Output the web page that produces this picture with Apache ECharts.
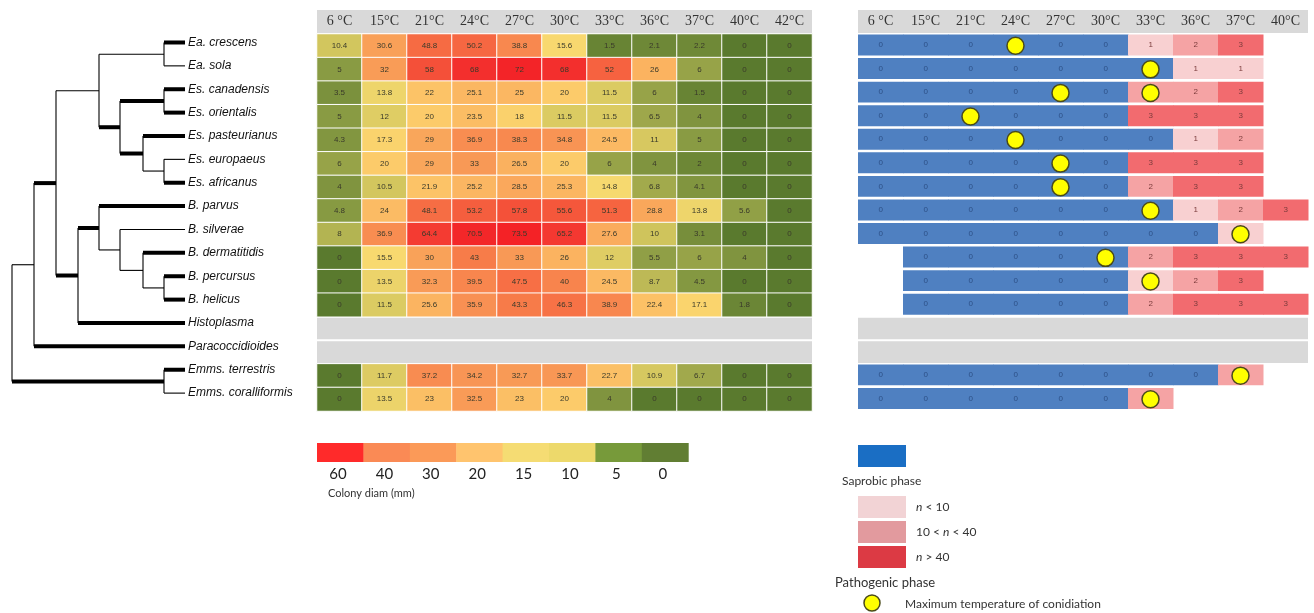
<!DOCTYPE html>
<html>
<head>
<meta charset="utf-8">
<script src="https://cdn.jsdelivr.net/npm/echarts@6/dist/echarts.min.js"></script>
<style>
  html, body { margin: 0; padding: 0; background: #fff; }
  #chart { width: 1314px; height: 613px; }
</style>
</head>
<body>
<div id="chart"></div>
<script>
// ---- data ----
const species = [
  'Ea. crescens', 'Ea. sola', 'Es. canadensis', 'Es. orientalis', 'Es. pasteurianus',
  'Es. europaeus', 'Es. africanus', 'B. parvus', 'B. silverae', 'B. dermatitidis',
  'B. percursus', 'B. helicus', 'Histoplasma', 'Paracoccidioides',
  'Emms. terrestris', 'Emms. coralliformis'
];

const growthTemps = ['6 °C', '15°C', '21°C', '24°C', '27°C', '30°C', '33°C', '36°C', '37°C', '40°C', '42°C'];
const phaseTemps  = ['6 °C', '15°C', '21°C', '24°C', '27°C', '30°C', '33°C', '36°C', '37°C', '40°C'];

// colony diameter (mm) per species and temperature; null = not tested
const colonyDiam = [
  [10.4, 30.6, 48.8, 50.2, 38.8, 15.6, 1.5, 2.1, 2.2, 0, 0],
  [5, 32, 58, 68, 72, 68, 52, 26, 6, 0, 0],
  [3.5, 13.8, 22, 25.1, 25, 20, 11.5, 6, 1.5, 0, 0],
  [5, 12, 20, 23.5, 18, 11.5, 11.5, 6.5, 4, 0, 0],
  [4.3, 17.3, 29, 36.9, 38.3, 34.8, 24.5, 11, 5, 0, 0],
  [6, 20, 29, 33, 26.5, 20, 6, 4, 2, 0, 0],
  [4, 10.5, 21.9, 25.2, 28.5, 25.3, 14.8, 6.8, 4.1, 0, 0],
  [4.8, 24, 48.1, 53.2, 57.8, 55.6, 51.3, 28.8, 13.8, 5.6, 0],
  [8, 36.9, 64.4, 70.5, 73.5, 65.2, 27.6, 10, 3.1, 0, 0],
  [0, 15.5, 30, 43, 33, 26, 12, 5.5, 6, 4, 0],
  [0, 13.5, 32.3, 39.5, 47.5, 40, 24.5, 8.7, 4.5, 0, 0],
  [0, 11.5, 25.6, 35.9, 43.3, 46.3, 38.9, 22.4, 17.1, 1.8, 0],
  null,
  null,
  [0, 11.7, 37.2, 34.2, 32.7, 33.7, 22.7, 10.9, 6.7, 0, 0],
  [0, 13.5, 23, 32.5, 23, 20, 4, 0, 0, 0, 0]
];

// phase: 0 = saprobic, 1 = n<10, 2 = 10<n<40, 3 = n>40 ; null = not tested
const phaseLevel = [
  [0, 0, 0, 0, 0, 0, 1, 2, 3, null],
  [0, 0, 0, 0, 0, 0, 0, 1, 1, null],
  [0, 0, 0, 0, 0, 0, 2, 2, 3, null],
  [0, 0, 0, 0, 0, 0, 3, 3, 3, null],
  [0, 0, 0, 0, 0, 0, 0, 1, 2, null],
  [0, 0, 0, 0, 0, 0, 3, 3, 3, null],
  [0, 0, 0, 0, 0, 0, 2, 3, 3, null],
  [0, 0, 0, 0, 0, 0, 0, 1, 2, 3],
  [0, 0, 0, 0, 0, 0, 0, 0, 1, null],
  [null, 0, 0, 0, 0, 0, 2, 3, 3, 3],
  [null, 0, 0, 0, 0, 0, 1, 2, 3, null],
  [null, 0, 0, 0, 0, 0, 2, 3, 3, 3],
  null,
  null,
  [0, 0, 0, 0, 0, 0, 0, 0, 2, null],
  [0, 0, 0, 0, 0, 0, 2, null, null, null]
];

// maximum temperature of conidiation
const conidiationMax = [
  ['Ea. crescens', '24°C'], ['Ea. sola', '33°C'], ['Es. canadensis', '27°C'],
  ['Es. canadensis', '33°C'], ['Es. orientalis', '21°C'], ['Es. pasteurianus', '24°C'],
  ['Es. europaeus', '27°C'], ['Es. africanus', '27°C'], ['B. parvus', '33°C'],
  ['B. silverae', '37°C'], ['B. dermatitidis', '30°C'], ['B. percursus', '33°C'],
  ['Emms. terrestris', '37°C'], ['Emms. coralliformis', '33°C']
];

// phylogeny: node depth x, thick (supported) branch flag w, tips index into species
const phylogeny = { x: 12, kids: [
  { x: 34, w: 0, kids: [
    { x: 56, w: 1, kids: [
      { x: 99, w: 0, kids: [
        { x: 164, w: 0, kids: [{ tip: 0, w: 1 }, { tip: 1, w: 0 }] },
        { x: 120, w: 1, kids: [
          { x: 164, w: 1, kids: [{ tip: 2, w: 1 }, { tip: 3, w: 1 }] },
          { x: 143, w: 1, kids: [
            { tip: 4, w: 1 },
            { x: 164, w: 0, kids: [{ tip: 5, w: 0 }, { tip: 6, w: 1 }] }
          ] }
        ] }
      ] },
      { x: 78, w: 1, kids: [
        { x: 99, w: 1, kids: [
          { tip: 7, w: 1 },
          { x: 120, w: 0, kids: [
            { tip: 8, w: 0 },
            { x: 143, w: 0, kids: [
              { tip: 9, w: 1 },
              { x: 164, w: 0, kids: [{ tip: 10, w: 1 }, { tip: 11, w: 1 }] }
            ] }
          ] }
        ] },
        { tip: 12, w: 1 }
      ] }
    ] },
    { tip: 13, w: 1 }
  ] },
  { x: 164, w: 1, kids: [{ tip: 14, w: 1 }, { tip: 15, w: 0 }] }
] };
const TIP_X = 185;

// ---- derived series data ----
const treeSegments = [];
(function layout(node, parentX) {
  if (node.tip !== undefined) {
    node.x = TIP_X;
    node.y = node.tip;
  } else {
    node.kids.forEach(k => layout(k, node.x));
    const first = node.kids[0], last = node.kids[node.kids.length - 1];
    node.y = (first.y + last.y) / 2;
    treeSegments.push([node.x, first.y, node.x, last.y, 0]);
  }
  if (parentX !== null) treeSegments.push([parentX, node.y, node.x, node.y, node.w]);
})(phylogeny, null);

const growthCells = [];
const missingRows = [];
colonyDiam.forEach((row, r) => {
  if (!row) { missingRows.push([0, r]); return; }
  row.forEach((v, c) => growthCells.push([c, r, v]));
});

const phaseCells = [];
phaseLevel.forEach((row, r) => {
  if (!row) return;
  row.forEach((v, c) => { if (v !== null) phaseCells.push([c, r, v]); });
});

// ---- styling ----
const diamColors = ['#5a7a2e', '#899b43', '#cfc45c', '#f8da70', '#fccb6a', '#fbb762', '#f9a259', '#f89354',
                    '#f8844d', '#f77647', '#f66842', '#f5593c', '#f44a37', '#f43931', '#f3282a', '#f41f24'];
const phaseColors = ['#4f80c1', '#f8d0d1', '#f5a3a4', '#f26b6f'];
const phaseText = ['#2d4f86', '#7a3b3b', '#7a3b3b', '#7a3b3b'];

const GRID_TOP = 34, GRID_H = 377;
const headerLabel = {
  interval: 0, margin: 1, color: '#333', fontFamily: 'Liberation Serif', fontSize: 14,
  backgroundColor: '#d9d9d9', width: 45, height: 23, lineHeight: 23, align: 'center'
};

function grayRow(params, api) {
  const c = api.coord([0, api.value(1)]);
  const s = api.size([1, 1]);
  const ncol = params.seriesName === 'growth-missing' ? growthTemps.length : phaseTemps.length;
  return {
    type: 'rect',
    shape: { x: c[0] - s[0] / 2, y: c[1] - s[1] / 2 + 1, width: s[0] * ncol, height: s[1] - 2 },
    style: { fill: '#d9d9d9' }
  };
}

const chart = echarts.init(document.getElementById('chart'));
chart.setOption({
  animation: false,
  backgroundColor: '#fff',
  grid: [
    { left: 0, top: 30.8, width: TIP_X, height: 374 },
    { left: 317, top: GRID_TOP, width: 495, height: GRID_H },
    { left: 858, top: GRID_TOP, width: 450, height: GRID_H }
  ],
  xAxis: [
    { gridIndex: 0, type: 'value', min: 0, max: TIP_X, show: false },
    { gridIndex: 1, type: 'category', data: growthTemps, position: 'top',
      axisLine: { show: false }, axisTick: { show: false }, axisLabel: headerLabel },
    { gridIndex: 2, type: 'category', data: phaseTemps, position: 'top',
      axisLine: { show: false }, axisTick: { show: false }, axisLabel: headerLabel }
  ],
  yAxis: [
    { gridIndex: 0, type: 'value', min: -0.5, max: species.length - 0.5, inverse: true, show: false },
    { gridIndex: 0, type: 'category', data: species, inverse: true, position: 'right',
      axisLine: { show: false }, axisTick: { show: false },
      axisLabel: { margin: 3, fontStyle: 'italic', fontSize: 12, fontFamily: 'Liberation Sans', color: '#111' } },
    { gridIndex: 1, type: 'category', data: species, inverse: true, show: false },
    { gridIndex: 2, type: 'category', data: species, inverse: true, show: false }
  ],
  visualMap: {
    type: 'continuous', show: false, seriesIndex: 1, dimension: 2,
    min: 0, max: 75, inRange: { color: diamColors }
  },
  series: [
    {
      name: 'phylogeny', type: 'custom', xAxisIndex: 0, yAxisIndex: 0,
      data: treeSegments, encode: { x: [0, 2], y: [1, 3] }, silent: true,
      renderItem: (params, api) => {
        const p1 = api.coord([api.value(0), api.value(1)]);
        const p2 = api.coord([api.value(2), api.value(3)]);
        return { type: 'line', shape: { x1: p1[0], y1: p1[1], x2: p2[0], y2: p2[1] },
                 style: { stroke: '#000', lineWidth: api.value(4) ? 4 : 1.1, lineCap: 'butt' } };
      }
    },
    {
      name: 'colony', type: 'heatmap', xAxisIndex: 1, yAxisIndex: 2, data: growthCells,
      itemStyle: { borderColor: '#fff', borderWidth: 1 },
      label: { show: true, fontSize: 8, color: '#3a3a2a', fontFamily: 'Liberation Sans',
               formatter: p => String(p.value[2]) }
    },
    {
      name: 'growth-missing', type: 'custom', xAxisIndex: 1, yAxisIndex: 2,
      data: missingRows, encode: { x: 0, y: 1 }, renderItem: grayRow
    },
    {
      name: 'phase', type: 'custom', xAxisIndex: 2, yAxisIndex: 3,
      data: phaseCells, encode: { x: 0, y: 1 },
      renderItem: (params, api) => {
        const c = api.coord([api.value(0), api.value(1)]);
        const s = api.size([1, 1]);
        const v = api.value(2);
        return {
          type: 'rect',
          shape: { x: c[0] - s[0] / 2, y: c[1] - s[1] / 2 + 0.5, width: s[0] + 0.5, height: s[1] - 2.6 },
          style: { fill: phaseColors[v] },
          textContent: { type: 'text', style: { text: String(v), fill: phaseText[v], fontSize: 8,
                         fontFamily: 'Liberation Sans' } },
          textConfig: { position: 'inside' }
        };
      }
    },
    {
      name: 'phase-missing', type: 'custom', xAxisIndex: 2, yAxisIndex: 3,
      data: missingRows, encode: { x: 0, y: 1 }, renderItem: grayRow
    },
    {
      name: 'conidiation', type: 'scatter', xAxisIndex: 2, yAxisIndex: 3,
      data: conidiationMax.map(d => [d[1], d[0]]), symbolSize: 17, z: 5,
      itemStyle: { color: '#ffff00', borderColor: '#4a4a1a', borderWidth: 1.5, opacity: 1 }
    }
  ],
  graphic: [
    // colony diameter key
    ...['#ff2a2a', '#fa8a55', '#fb9a58', '#ffc46e', '#f5dc73', '#edd96b', '#779a3a', '#617e33'].map((col, i) => ({
      type: 'rect', left: 317 + i * 46.4, top: 443, shape: { width: 46.9, height: 19 }, style: { fill: col }
    })),
    ...['60', '40', '30', '20', '15', '10', '5', '0'].map((t, i) => ({
      type: 'text', x: 317 + i * 46.4 + 21, y: 474,
      style: { text: t, fontSize: 15, fontFamily: 'Lato', fill: '#222', align: 'center', verticalAlign: 'middle' }
    })),
    { type: 'text', x: 328, y: 493, style: { text: 'Colony diam (mm)', fontSize: 11, fontFamily: 'Lato', fill: '#333', verticalAlign: 'middle' } },
    // phase key
    { type: 'rect', x: 858, y: 445, shape: { width: 48, height: 22 }, style: { fill: '#1a6ec4' } },
    { type: 'text', x: 842, y: 481, style: { text: 'Saprobic phase', fontSize: 12, fontFamily: 'Lato', fill: '#333', verticalAlign: 'middle' } },
    { type: 'rect', x: 858, y: 496, shape: { width: 48, height: 22 }, style: { fill: '#f2d3d5' } },
    { type: 'rect', x: 858, y: 521, shape: { width: 48, height: 22 }, style: { fill: '#e29a9e' } },
    { type: 'rect', x: 858, y: 546, shape: { width: 48, height: 22 }, style: { fill: '#dc3a44' } },
    ...[['{i|n} < 10', 507], ['10 < {i|n} < 40', 532], ['{i|n} > 40', 557]].map(([t, y]) => ({
      type: 'text', x: 916, y: y,
      style: { text: t, fontSize: 12, fontFamily: 'Lato', fill: '#333', verticalAlign: 'middle',
               rich: { i: { fontStyle: 'italic', fontSize: 12, fontFamily: 'Lato', fill: '#333' } } }
    })),
    { type: 'text', x: 835, y: 583, style: { text: 'Pathogenic phase', fontSize: 13, fontFamily: 'Lato', fill: '#333', verticalAlign: 'middle' } },
    { type: 'circle', shape: { cx: 872, cy: 603, r: 8 }, style: { fill: '#ffff00', stroke: '#4a4a1a', lineWidth: 1.5 } },
    { type: 'text', x: 905, y: 604, style: { text: 'Maximum temperature of conidiation', fontSize: 12, fontFamily: 'Lato', fill: '#333', verticalAlign: 'middle' } }
  ]
});
</script>
</body>
</html>
